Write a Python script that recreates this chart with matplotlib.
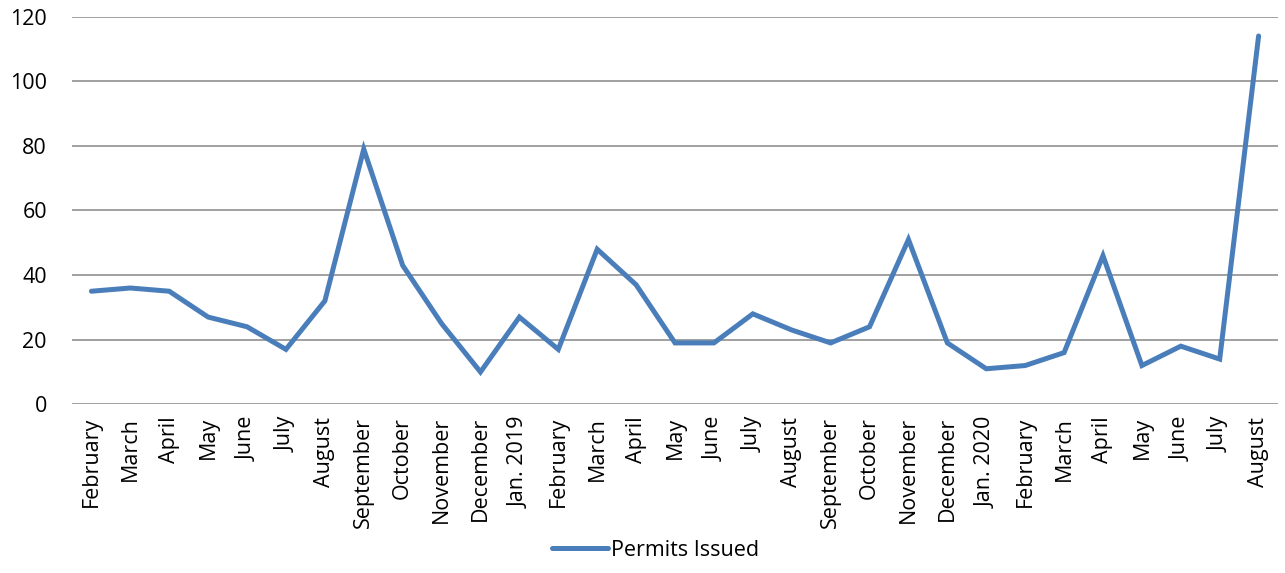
import matplotlib.pyplot as plt

months = ["February", "March", "April", "May", "June", "July", "August",
          "September", "October", "November", "December", "Jan. 2019",
          "February", "March", "April", "May", "June", "July", "August",
          "September", "October", "November", "December", "Jan. 2020",
          "February", "March", "April", "May", "June", "July", "August"]
permits = [35, 36, 35, 27, 24, 17, 32, 79, 43, 25, 10, 27,
           17, 48, 37, 19, 19, 28, 23, 19, 24, 51, 19, 11,
           12, 16, 46, 12, 18, 14, 114]
yticks = [0, 20, 40, 60, 80, 100, 120]

plt.rcParams["font.family"] = ["Open Sans", "DejaVu Sans"]

fig = plt.figure(figsize=(12.85, 5.73), dpi=100)
ax = fig.add_axes([0.056, 0.2944, 0.9386, 0.6766])

x = list(range(len(months)))
ax.plot(x, permits, color="#4A7EBB", linewidth=3.6, solid_joinstyle="miter",
        solid_capstyle="round", label="Permits Issued")

ax.set_xlim(-0.5, len(months) - 0.5)
ax.set_ylim(0, 120)
ax.set_yticks(yticks)
ax.set_xticks(x)
ax.set_xticklabels(months, rotation=90, fontsize=15.5)
ax.tick_params(axis="y", labelsize=15.5, length=0, pad=18)
ax.tick_params(axis="x", length=0, pad=9)
ax.grid(axis="y", color="#868686", linewidth=1.1)
ax.set_axisbelow(True)
for s in ax.spines.values():
    s.set_visible(False)

fig.legend(loc="lower center", bbox_to_anchor=(0.51, -0.012), frameon=False,
           fontsize=15.5, handlelength=2.6, handletextpad=0.15)

fig.savefig("out.png", dpi=100)
